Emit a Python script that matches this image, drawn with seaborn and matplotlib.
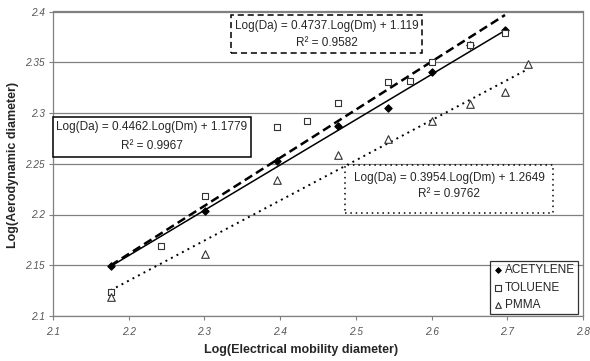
import pandas as pd
import seaborn as sns
import matplotlib
matplotlib.use("Agg")
import matplotlib.pyplot as plt
from matplotlib.patches import Rectangle

# Values.
acet_x = [2.176, 2.301, 2.396, 2.476, 2.542, 2.600, 2.651, 2.697]
acet_y = [2.149, 2.203, 2.253, 2.287, 2.305, 2.340, 2.367, 2.382]

tol_x = [2.176, 2.243, 2.301, 2.396, 2.436, 2.476, 2.542, 2.572, 2.600, 2.651, 2.697]
tol_y = [2.124, 2.169, 2.218, 2.286, 2.292, 2.310, 2.331, 2.332, 2.350, 2.367, 2.379]

pmma_x = [2.176, 2.301, 2.396, 2.476, 2.542, 2.600, 2.651, 2.697, 2.728]
pmma_y = [2.119, 2.161, 2.234, 2.259, 2.274, 2.292, 2.309, 2.321, 2.348]

series_names = ["ACETYLENE", "TOLUENE", "PMMA"]
fit_slope = [0.4462, 0.4737, 0.3954]
fit_intercept = [1.1779, 1.119, 1.2649]
fit_r2 = ["0.9967", "0.9582", "0.9762"]

x_ticks = [2.1, 2.2, 2.3, 2.4, 2.5, 2.6, 2.7, 2.8]
y_ticks = [2.1, 2.15, 2.2, 2.25, 2.3, 2.35, 2.4]

W, H = 590, 361

sns.set_theme(style="white")
plt.rcParams["font.family"] = ["Liberation Sans", "DejaVu Sans"]

fig = plt.figure(figsize=(W / 100, H / 100), dpi=100)
ax = fig.add_axes([53 / W, 1 - 316 / H, (583 - 53) / W, (316 - 11.5) / H])

frames = []
for name, xs, ys in zip(series_names, [acet_x, tol_x, pmma_x], [acet_y, tol_y, pmma_y]):
    frames.append(pd.DataFrame({"dm": xs, "da": ys, "series": name}))
df = pd.concat(frames, ignore_index=True)

# Trend lines from the fitted coefficients, over each series' range.
line_styles = ["-", (0, (3.5, 1.8)), (0, (1, 2.2))]
line_widths = [1.1, 1.8, 1.4]
for name, a, b, ls, lw in zip(series_names, fit_slope, fit_intercept, line_styles, line_widths):
    sub = df[df["series"] == name]
    xr = [sub["dm"].min(), sub["dm"].max()]
    line_df = pd.DataFrame({"dm": xr, "da": [a * v + b for v in xr]})
    sns.lineplot(data=line_df, x="dm", y="da", ax=ax, color="black",
                 linestyle=ls, linewidth=lw, zorder=3)

# Markers.
marker_opts = {
    "ACETYLENE": dict(marker="D", s=14, color="black", edgecolor="black"),
    "TOLUENE": dict(marker="s", s=24, facecolor="white", edgecolor="#333333"),
    "PMMA": dict(marker="^", s=30, facecolor="white", edgecolor="#333333"),
}
for name in series_names:
    sub = df[df["series"] == name]
    sns.scatterplot(data=sub, x="dm", y="da", ax=ax, label=name,
                    linewidth=0.8, zorder=4, **marker_opts[name])

ax.set_xlim(2.1, 2.8)
ax.set_ylim(2.1, 2.4)
ax.set_xticks(x_ticks)
ax.set_yticks(y_ticks)
ax.set_xticklabels([f"{v:g}" for v in x_ticks], fontstyle="italic", color="#555555", fontsize=7.2)
ax.set_yticklabels([f"{v:g}" for v in y_ticks], fontstyle="italic", color="#555555", fontsize=7.2)
ax.tick_params(axis="both", direction="out", length=3, width=0.8, color="#808080",
               left=True, bottom=True, pad=3)
ax.tick_params(axis="x", pad=5)
ax.yaxis.grid(True, color="#808080", linewidth=0.9)
ax.xaxis.grid(False)
for spine in ax.spines.values():
    spine.set_color("#808080")
    spine.set_linewidth(0.9)

ax.set_xlabel("")
ax.set_ylabel("")
fig.text(301 / W, 1 - 350 / H, "Log(Electrical mobility diameter)", ha="center", va="center",
         fontsize=9, fontweight="bold")
fig.text(13 / W, 1 - 165 / H, "Log(Aerodynamic diameter)", ha="center", va="center",
         rotation=90, fontsize=9, fontweight="bold")

leg = ax.legend(loc="lower right", bbox_to_anchor=(578 / W, 1 - 314 / H),
                bbox_transform=fig.transFigure, frameon=True, fancybox=False,
                fontsize=8.5, handletextpad=0.1, handlelength=0.9, borderpad=0.25,
                labelspacing=0.45, markerscale=0.75, borderaxespad=0)
leg.get_frame().set_edgecolor("black")
leg.get_frame().set_linewidth(0.9)


def note_box(x0, y0, x1, y1, ls, line_text, r2_text, y_line1, y_line2):
    fig.add_artist(Rectangle((x0 / W, 1 - y1 / H), (x1 - x0) / W, (y1 - y0) / H,
                             transform=fig.transFigure, facecolor="white", edgecolor="black",
                             linestyle=ls, linewidth=1.1, zorder=5))
    cx = (x0 + x1) / 2 / W
    fig.text(cx, 1 - y_line1 / H, line_text, ha="center", va="center", fontsize=8.5, zorder=6)
    fig.text(cx, 1 - y_line2 / H, r2_text, ha="center", va="center", fontsize=8.5, zorder=6)


def eq(a, b):
    return f"Log(Da) = {a}.Log(Dm) + {b}"


note_box(53, 117, 251, 157, "-", eq(fit_slope[0], fit_intercept[0]),
         f"R² = {fit_r2[0]}", 127, 146)
note_box(231, 15, 422, 53, (0, (4, 2.5)), eq(fit_slope[1], fit_intercept[1]),
         f"R² = {fit_r2[1]}", 26, 43)
note_box(345, 165, 553, 213, (0, (1, 2.5)), eq(fit_slope[2], fit_intercept[2]),
         f"R² = {fit_r2[2]}", 178, 194)

fig.savefig("out.png", dpi=100)
